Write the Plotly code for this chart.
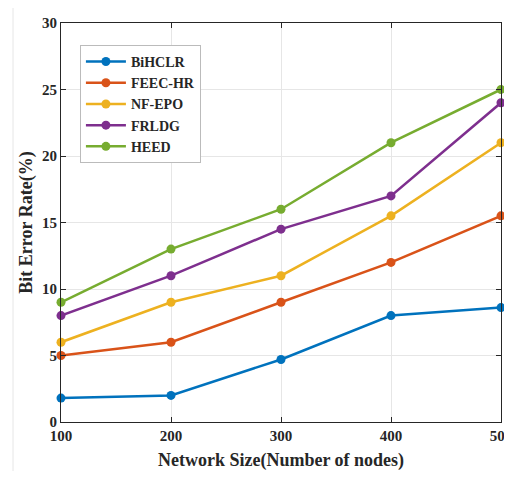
import plotly.graph_objects as go

x_vals = [100, 200, 300, 400, 500]
bihclr = [1.8, 2.0, 4.7, 8.0, 8.6]
feec_hr = [5.0, 6.0, 9.0, 12.0, 15.5]
nf_epo = [6.0, 9.0, 11.0, 15.5, 21.0]
frldg = [8.0, 11.0, 14.5, 17.0, 24.0]
heed = [9.0, 13.0, 16.0, 21.0, 25.0]
names = ["BiHCLR", "FEEC-HR", "NF-EPO", "FRLDG", "HEED"]
colors = ["#0072BD", "#D95319", "#EDB120", "#7E2F8E", "#77AC30"]
y_ticks = [0, 5, 10, 15, 20, 25, 30]

fig = go.Figure()
for name, ys, c in zip(names, [bihclr, feec_hr, nf_epo, frldg, heed], colors):
    fig.add_trace(go.Scatter(x=x_vals, y=ys, name=name, mode="lines+markers",
                             line=dict(color=c, width=2.5),
                             marker=dict(color=c, size=9),
                             cliponaxis=False))

fam = "Liberation Serif, Times New Roman, serif"
fig.update_layout(
    width=496, height=463,
    margin=dict(l=53, r=3, t=15, b=49),
    paper_bgcolor="white", plot_bgcolor="white",
    font=dict(family=fam, size=14, color="#262626"),
    showlegend=True,
    legend=dict(x=0.043, y=0.945, xanchor="left", yanchor="top",
                bordercolor="#bbbbbb", borderwidth=1, bgcolor="white",
                font=dict(size=14, family=fam, weight="bold", color="#262626"),
                tracegroupgap=0, itemwidth=40),
    xaxis=dict(range=[100, 500], tickvals=x_vals, ticktext=[str(v) for v in x_vals],
               showgrid=True, gridcolor="#e6e6e6", zeroline=False,
               showline=True, linecolor="#262626", linewidth=1.2, mirror="allticks",
               ticks="inside", ticklen=5, tickcolor="#262626",
               ticklabeloverflow="allow", automargin=False,
               tickfont=dict(size=15, weight="bold"),
               title=dict(text="Network Size(Number of nodes)", font=dict(size=18, weight="bold"), standoff=13)),
    yaxis=dict(range=[0, 30], tickvals=y_ticks,
               showgrid=True, gridcolor="#e6e6e6", zeroline=False,
               showline=True, linecolor="#262626", linewidth=1.2, mirror="allticks",
               ticks="inside", ticklen=5, tickcolor="#262626",
               automargin=False,
               tickfont=dict(size=15, weight="bold"),
               title=dict(text="Bit Error Rate(%)", font=dict(size=18, weight="bold"), standoff=4)),
)
fig.add_shape(type="line", xref="paper", yref="paper",
              x0=-0.109, x1=-0.109, y0=-0.2, y1=1.1,
              line=dict(color="#e6e6e6", width=1), layer="below")
fig.write_html("out.html")
